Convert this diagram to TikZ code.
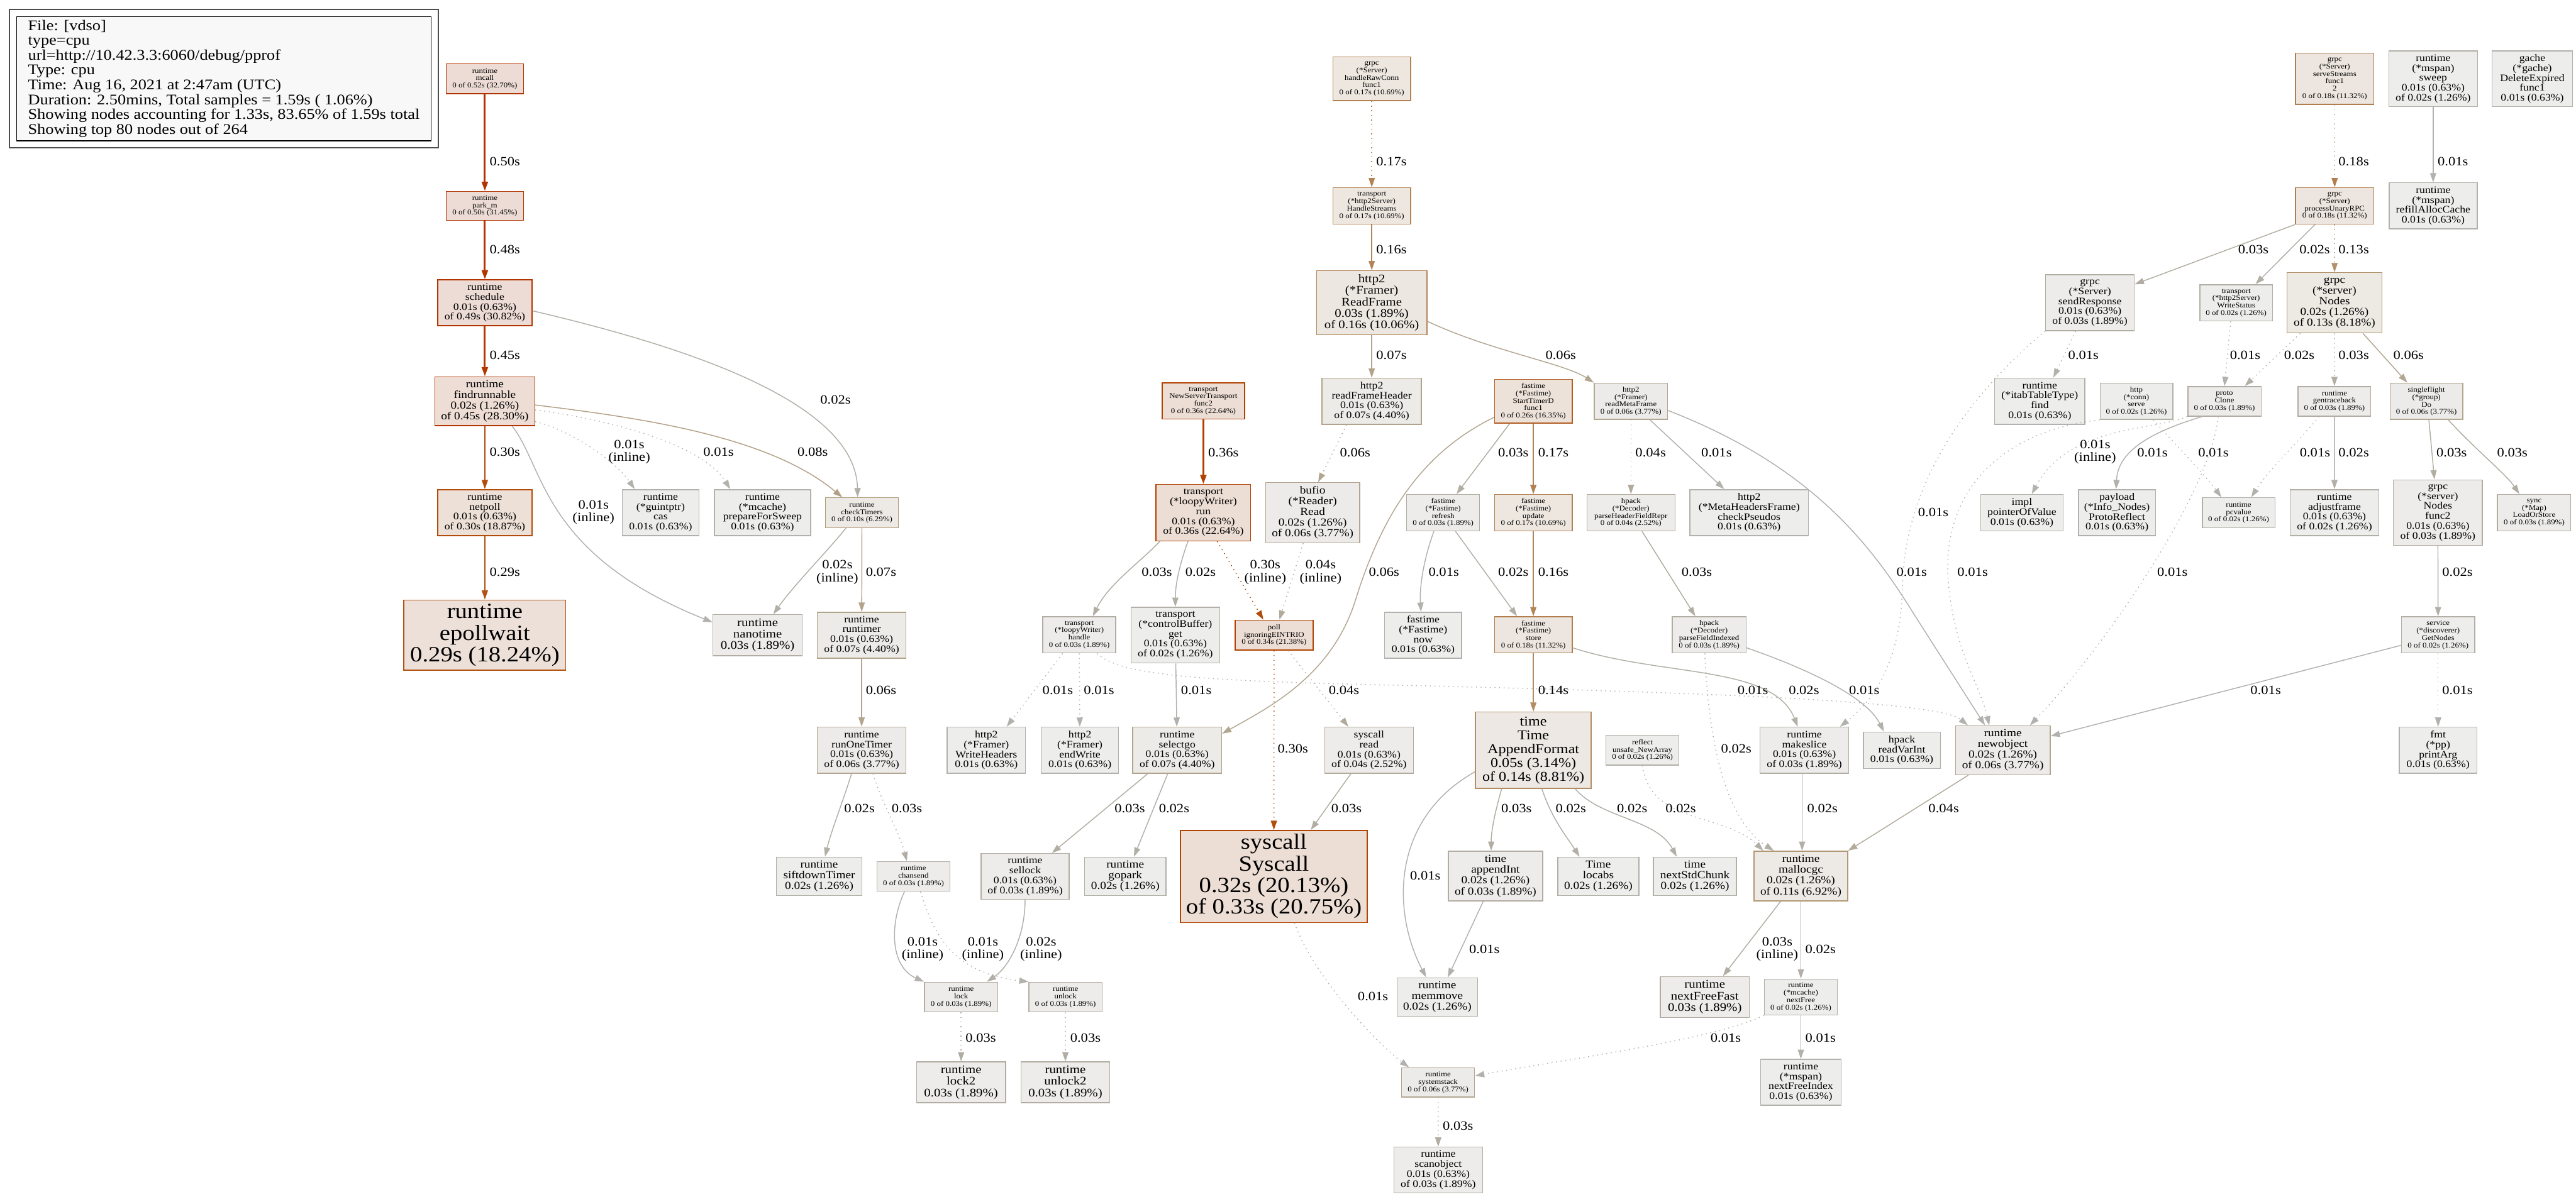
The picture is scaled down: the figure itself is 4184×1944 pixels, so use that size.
\documentclass[tikz,border=0pt]{standalone}
\usepackage{fontspec}
\setmainfont{Liberation Serif}[FakeStretch=1.12]
\usetikzlibrary{arrows.meta}
\definecolor{legfill}{HTML}{F8F8F8}
\definecolor{legframe}{HTML}{4D4D4D}
\newcount\pcc
\pcc=1
\loop
  \pgfmathsetmacro\pclscore{\the\pcc/159}
  \pgfmathsetmacro\pclshift{pow(\pclscore,0.3)}
  \pgfmathsetmacro\pclsatb{(\pclscore<0.2) ? (0.1*\pclscore/0.2) : 0.1}
  \pgfmathsetmacro\pclsatf{(\pclscore<0.2) ? (\pclscore/0.2) : 1.0}
  \pgfmathsetmacro\pclgb{0.93*(1-\pclsatb*\pclshift)}
  \pgfmathsetmacro\pclbb{0.93*(1-\pclsatb)}
  \pgfmathsetmacro\pclgf{0.7*(1-\pclsatf*\pclshift)}
  \pgfmathsetmacro\pclbf{0.7*(1-\pclsatf)}
  \edef\pcldo{\noexpand\definecolor{F\the\pcc}{rgb}{0.93,\pclgb,\pclbb}\noexpand\definecolor{D\the\pcc}{rgb}{0.7,\pclgf,\pclbf}}
  \pcldo
  \advance\pcc by 1
\ifnum\pcc<60 \repeat
\begin{document}
\begin{tikzpicture}[x=1pt,y=-1pt,
  nd/.style={rectangle, draw=D#1, fill=F#1, line width=1.5pt, inner sep=0pt, align=center},
  wh/.style 2 args={minimum width=#1pt, minimum height=#2pt},
  fa/.style={font=\fontsize{11.8}{12}\selectfont},
  fb/.style={font=\fontsize{16.2}{16.1}\selectfont},
  fc/.style={font=\fontsize{17.6}{17.4}\selectfont},
  fd/.style={font=\fontsize{19}{18.8}\selectfont},
  fe/.style={font=\fontsize{22}{22.4}\selectfont},
  ff/.style={font=\fontsize{35.3}{35}\selectfont},
  lbl/.style={font=\fontsize{20.6}{20.5}\selectfont, inner sep=0pt, align=center},
  ed/.style={draw=D#1, line width=1.5pt, -{Triangle[length=15pt,width=10pt]}},
  edd/.style={ed=#1, dash pattern=on 1.5pt off 6pt},
  ew/.style={ed=#1, line width=3pt}]
\fill[white] (0,0) rectangle (4184,1944);
\useasboundingbox (0,0) rectangle (4184,1944);

% legend
\node[draw=legframe, line width=2pt, minimum width=696.4pt, minimum height=223.8pt, inner sep=0pt] (legendframe) at (363.6,127.7) {};
\node[draw=black, fill=legfill, line width=1.5pt, minimum width=673.6pt, minimum height=201.9pt, inner sep=0pt, align=left, font=\fontsize{24}{24.1}\selectfont] (legend) at (363.6,127.85) {File: [vdso]\\type=cpu\\url=http://10.42.3.3:6060/debug/pprof\\Type: cpu\\Time: Aug 16, 2021 at 2:47am (UTC)\\Duration: 2.50mins, Total samples = 1.59s ( 1.06\%)\\Showing nodes accounting for 1.33s, 83.65\% of 1.59s total\\Showing top 80 nodes out of 264};

% nodes
\node[nd=52,fa,wh={126}{48.5}] (mcall) at (787.5,127.9) {runtime\\mcall\\0 of 0.52s (32.70\%)};
\node[nd=50,fa,wh={126}{47}] (parkm) at (787.5,334.5) {runtime\\park\_m\\0 of 0.50s (31.45\%)};
\node[nd=49,fb,wh={153}{74.6}] (schedule) at (787.5,492) {runtime\\schedule\\0.01s (0.63\%)\\of 0.49s (30.82\%)};
\node[nd=45,fc,wh={162}{79.5}] (findrunnable) at (787.5,652) {runtime\\findrunnable\\0.02s (1.26\%)\\of 0.45s (28.30\%)};
\node[nd=30,fb,wh={153}{75}] (netpoll) at (787.5,833) {runtime\\netpoll\\0.01s (0.63\%)\\of 0.30s (18.87\%)};
\node[nd=29,ff,wh={263}{114}] (epollwait) at (787.5,1032) {runtime\\epollwait\\0.29s (18.24\%)};
\node[nd=1,fb,wh={125}{75}] (cas) at (1073,833) {runtime\\(*guintptr)\\cas\\0.01s (0.63\%)};
\node[nd=1,fb,wh={156}{75}] (prep) at (1238.5,833) {runtime\\(*mcache)\\prepareForSweep\\0.01s (0.63\%)};
\node[nd=10,fa,wh={118.5}{48.6}] (checkTimers) at (1400,833) {runtime\\checkTimers\\0 of 0.10s (6.29\%)};
\node[nd=3,fd,wh={145}{66.5}] (nanotime) at (1230.5,1032) {runtime\\nanotime\\0.03s (1.89\%)};
\node[nd=7,fb,wh={144}{74.5}] (runtimer) at (1399.5,1032) {runtime\\runtimer\\0.01s (0.63\%)\\of 0.07s (4.40\%)};
\node[nd=6,fb,wh={144}{75}] (runOneTimer) at (1399.5,1219) {runtime\\runOneTimer\\0.01s (0.63\%)\\of 0.06s (3.77\%)};
\node[nd=2,fc,wh={139}{62.4}] (siftdown) at (1330.5,1424) {runtime\\siftdownTimer\\0.02s (1.26\%)};
\node[nd=3,fa,wh={118.6}{48.3}] (chansend) at (1483.7,1424) {runtime\\chansend\\0 of 0.03s (1.89\%)};
\node[nd=3,fb,wh={143}{74.4}] (sellock) at (1665,1424) {runtime\\sellock\\0.01s (0.63\%)\\of 0.03s (1.89\%)};
\node[nd=2,fc,wh={132}{62.4}] (gopark) at (1827.7,1424) {runtime\\gopark\\0.02s (1.26\%)};
\node[nd=3,fa,wh={119}{48.3}] (lock) at (1561,1620) {runtime\\lock\\0 of 0.03s (1.89\%)};
\node[nd=3,fa,wh={118.6}{48.3}] (unlock) at (1730.6,1620) {runtime\\unlock\\0 of 0.03s (1.89\%)};
\node[nd=3,fd,wh={144.5}{66.4}] (lock2) at (1561,1758.5) {runtime\\lock2\\0.03s (1.89\%)};
\node[nd=3,fd,wh={144.5}{66.4}] (unlock2) at (1730.4,1758.5) {runtime\\unlock2\\0.03s (1.89\%)};
\node[nd=36,fa,wh={134}{59}] (nst) at (1954.5,651.5) {transport\\NewServerTransport\\func2\\0 of 0.36s (22.64\%)};
\node[nd=36,fb,wh={153.6}{91.5}] (run) at (1954.5,833) {transport\\(*loopyWriter)\\run\\0.01s (0.63\%)\\of 0.36s (22.64\%)};
\node[nd=3,fa,wh={118.5}{59}] (handle) at (1753,1031.5) {transport\\(*loopyWriter)\\handle\\0 of 0.03s (1.89\%)};
\node[nd=2,fb,wh={144}{90.6}] (cbget) at (1909,1032) {transport\\(*controlBuffer)\\get\\0.01s (0.63\%)\\of 0.02s (1.26\%)};
\node[nd=34,fa,wh={126.8}{48.6}] (poll) at (2069.4,1032) {poll\\ignoringEINTRIO\\0 of 0.34s (21.38\%)};
\node[nd=1,fb,wh={127}{75}] (wh) at (1602,1219) {http2\\(*Framer)\\WriteHeaders\\0.01s (0.63\%)};
\node[nd=1,fb,wh={125.5}{75}] (endw) at (1754,1219) {http2\\(*Framer)\\endWrite\\0.01s (0.63\%)};
\node[nd=7,fb,wh={144.5}{75}] (selectgo) at (1912,1219) {runtime\\selectgo\\0.01s (0.63\%)\\of 0.07s (4.40\%)};
\node[nd=33,ff,wh={303}{149.6}] (syscallS) at (2069,1424) {syscall\\Syscall\\0.32s (20.13\%)\\of 0.33s (20.75\%)};
\node[nd=17,fa,wh={126}{71}] (hrc) at (2228,128) {grpc\\(*Server)\\handleRawConn\\func1\\0 of 0.17s (10.69\%)};
\node[nd=17,fa,wh={126}{59}] (hs) at (2228,334.5) {transport\\(*http2Server)\\HandleStreams\\0 of 0.17s (10.69\%)};
\node[nd=16,fd,wh={179}{104.4}] (rf) at (2228,492) {http2\\(*Framer)\\ReadFrame\\0.03s (1.89\%)\\of 0.16s (10.06\%)};
\node[nd=7,fb,wh={161.4}{75}] (rfh) at (2228,652) {http2\\readFrameHeader\\0.01s (0.63\%)\\of 0.07s (4.40\%)};
\node[nd=26,fa,wh={126}{71}] (std) at (2490.5,652) {fastime\\(*Fastime)\\StartTimerD\\func1\\0 of 0.26s (16.35\%)};
\node[nd=6,fa,wh={119}{59}] (rmf) at (2649,652) {http2\\(*Framer)\\readMetaFrame\\0 of 0.06s (3.77\%)};
\node[nd=6,fc,wh={153}{97.8}] (bufio) at (2132,833) {bufio\\(*Reader)\\Read\\0.02s (1.26\%)\\of 0.06s (3.77\%)};
\node[nd=3,fa,wh={118.5}{59}] (refresh) at (2344,833) {fastime\\(*Fastime)\\refresh\\0 of 0.03s (1.89\%)};
\node[nd=17,fa,wh={126}{59}] (update) at (2490.5,833) {fastime\\(*Fastime)\\update\\0 of 0.17s (10.69\%)};
\node[nd=4,fa,wh={143}{59}] (phfr) at (2649,833) {hpack\\(*Decoder)\\parseHeaderFieldRepr\\0 of 0.04s (2.52\%)};
\node[nd=1,fb,wh={193}{75}] (cps) at (2841,833) {http2\\(*MetaHeadersFrame)\\checkPseudos\\0.01s (0.63\%)};
\node[nd=1,fb,wh={125}{74.5}] (now) at (2311.5,1032) {fastime\\(*Fastime)\\now\\0.01s (0.63\%)};
\node[nd=18,fa,wh={126}{59}] (store) at (2490.5,1031.5) {fastime\\(*Fastime)\\store\\0 of 0.18s (11.32\%)};
\node[nd=3,fa,wh={120}{59}] (pfi) at (2776,1031.5) {hpack\\(*Decoder)\\parseFieldIndexed\\0 of 0.03s (1.89\%)};
\node[nd=4,fb,wh={144}{75}] (sread) at (2223.6,1219) {syscall\\read\\0.01s (0.63\%)\\of 0.04s (2.52\%)};
\node[nd=14,fe,wh={188}{124}] (af) at (2490.5,1219) {time\\Time\\AppendFormat\\0.05s (3.14\%)\\of 0.14s (8.81\%)};
\node[nd=2,fa,wh={118.6}{48.3}] (una) at (2667.7,1219) {reflect\\unsafe\_NewArray\\0 of 0.02s (1.26\%)};
\node[nd=3,fb,wh={144}{75}] (makeslice) at (2930.7,1219) {runtime\\makeslice\\0.01s (0.63\%)\\of 0.03s (1.89\%)};
\node[nd=1,fb,wh={125}{59}] (rvi) at (3089,1219) {hpack\\readVarInt\\0.01s (0.63\%)};
\node[nd=3,fc,wh={153}{81}] (appendInt) at (2429,1423.5) {time\\appendInt\\0.02s (1.26\%)\\of 0.03s (1.89\%)};
\node[nd=2,fc,wh={132}{62.4}] (locabs) at (2596,1424) {Time\\locabs\\0.02s (1.26\%)};
\node[nd=2,fc,wh={134.7}{62.4}] (nsc) at (2753,1424) {time\\nextStdChunk\\0.02s (1.26\%)};
\node[nd=11,fc,wh={152}{81}] (mallocgc) at (2925,1423.5) {runtime\\mallocgc\\0.02s (1.26\%)\\of 0.11s (6.92\%)};
\node[nd=2,fc,wh={131}{62.4}] (memmove) at (2334.5,1620) {runtime\\memmove\\0.02s (1.26\%)};
\node[nd=3,fd,wh={144.5}{66.8}] (nff) at (2769,1620) {runtime\\nextFreeFast\\0.03s (1.89\%)};
\node[nd=2,fa,wh={118.6}{58.4}] (nextFree) at (2925,1620) {runtime\\(*mcache)\\nextFree\\0 of 0.02s (1.26\%)};
\node[nd=6,fa,wh={118.6}{47.4}] (sysstack) at (2335.8,1758.7) {runtime\\systemstack\\0 of 0.06s (3.77\%)};
\node[nd=1,fb,wh={130.5}{74.4}] (nfi) at (2925,1758.5) {runtime\\(*mspan)\\nextFreeIndex\\0.01s (0.63\%)};
\node[nd=3,fb,wh={144}{74.4}] (scanobject) at (2336,1901) {runtime\\scanobject\\0.01s (0.63\%)\\of 0.03s (1.89\%)};
\node[nd=18,fa,wh={127}{83}] (ss) at (3792,128) {grpc\\(*Server)\\serveStreams\\func1\\2\\0 of 0.18s (11.32\%)};
\node[nd=2,fb,wh={144.4}{90.8}] (sweep) at (3952,128) {runtime\\(*mspan)\\sweep\\0.01s (0.63\%)\\of 0.02s (1.26\%)};
\node[nd=1,fb,wh={130.6}{90.8}] (gache) at (4113,128) {gache\\(*gache)\\DeleteExpired\\func1\\0.01s (0.63\%)};
\node[nd=18,fa,wh={127}{59}] (pur) at (3792,334.5) {grpc\\(*Server)\\processUnaryRPC\\0 of 0.18s (11.32\%)};
\node[nd=1,fb,wh={143}{75}] (rac) at (3952,334.5) {runtime\\(*mspan)\\refillAllocCache\\0.01s (0.63\%)};
\node[nd=3,fb,wh={144}{90.8}] (sresp) at (3394.5,492) {grpc\\(*Server)\\sendResponse\\0.01s (0.63\%)\\of 0.03s (1.89\%)};
\node[nd=2,fa,wh={118}{59}] (wstat) at (3632,492) {transport\\(*http2Server)\\WriteStatus\\0 of 0.02s (1.26\%)};
\node[nd=13,fc,wh={154}{98}] (nodes) at (3791.7,492) {grpc\\(*server)\\Nodes\\0.02s (1.26\%)\\of 0.13s (8.18\%)};
\node[nd=1,fb,wh={146.6}{75}] (itab) at (3313,652) {runtime\\(*itabTableType)\\find\\0.01s (0.63\%)};
\node[nd=2,fa,wh={118}{59}] (conn) at (3470,652) {http\\(*conn)\\serve\\0 of 0.02s (1.26\%)};
\node[nd=3,fa,wh={119}{48}] (clone) at (3613,652) {proto\\Clone\\0 of 0.03s (1.89\%)};
\node[nd=3,fa,wh={118}{48}] (gtb) at (3791.6,652) {runtime\\gentraceback\\0 of 0.03s (1.89\%)};
\node[nd=6,fa,wh={118}{59}] (sfd) at (3941,652) {singleflight\\(*group)\\Do\\0 of 0.06s (3.77\%)};
\node[nd=1,fb,wh={134}{59}] (pov) at (3284,833) {impl\\pointerOfValue\\0.01s (0.63\%)};
\node[nd=1,fb,wh={125}{75}] (payload) at (3438.4,833) {payload\\(*Info\_Nodes)\\ProtoReflect\\0.01s (0.63\%)};
\node[nd=2,fa,wh={118}{48.6}] (pcvalue) at (3636,833) {runtime\\pcvalue\\0 of 0.02s (1.26\%)};
\node[nd=2,fb,wh={144.5}{75}] (adjf) at (3791.7,833) {runtime\\adjustframe\\0.01s (0.63\%)\\of 0.02s (1.26\%)};
\node[nd=3,fb,wh={144.5}{106.6}] (nf2) at (3959.6,833) {grpc\\(*server)\\Nodes\\func2\\0.01s (0.63\%)\\of 0.03s (1.89\%)};
\node[nd=3,fa,wh={119}{59}] (loadstore) at (4116,833) {sync\\(*Map)\\LoadOrStore\\0 of 0.03s (1.89\%)};
\node[nd=2,fa,wh={119}{59}] (getnodes) at (3960,1031.5) {service\\(*discoverer)\\GetNodes\\0 of 0.02s (1.26\%)};
\node[nd=6,fc,wh={154}{79.5}] (newobject) at (3253,1219) {runtime\\newobject\\0.02s (1.26\%)\\of 0.06s (3.77\%)};
\node[nd=1,fb,wh={126}{75}] (printarg) at (3960,1219) {fmt\\(*pp)\\printArg\\0.01s (0.63\%)};

% edges: runtime scheduler
\draw[ew=50] (mcall) -- (parkm);
\draw[ew=48] (parkm) -- (schedule);
\draw[ew=45] (schedule) -- (findrunnable);
\draw[ed=2] ([yshift=-13pt]schedule.east) .. controls (1100,560) and (1390,650) .. ([xshift=-7pt]checkTimers.north);
\draw[ed=30] (findrunnable) -- (netpoll);
\draw[ed=29] (netpoll) -- (epollwait);
\draw[ed=1] ([xshift=44.5pt]findrunnable.south) .. controls (885,760) and (880,900) .. ([yshift=21pt]nanotime.west);
\draw[edd=1] ([yshift=-33pt]findrunnable.east) .. controls (930,700) and (1000,750) .. ([xshift=-42pt]cas.north);
\draw[edd=1] ([yshift=-14pt]findrunnable.east) .. controls (980,680) and (1140,720) .. ([xshift=-52.5pt]prep.north);
\draw[ed=8] ([yshift=-6pt]findrunnable.east) .. controls (1050,680) and (1250,710) .. ([xshift=-32pt]checkTimers.north);
\draw[ed=2] ([xshift=-26pt]checkTimers.south) .. controls (1340,900) and (1290,950) .. ([xshift=25.5pt]nanotime.north);
\draw[ed=7] (checkTimers) -- (runtimer);
\draw[ed=6] (runtimer) -- (runOneTimer);
\draw[ed=2] ([xshift=-16.5pt]runOneTimer.south) .. controls (1370,1300) and (1350,1350) .. ([xshift=9.5pt]siftdown.north);
\draw[edd=3] ([xshift=18.5pt]runOneTimer.south) .. controls (1430,1300) and (1460,1350) .. ([xshift=-10.7pt]chansend.north);
\draw[ed=1] ([xshift=-14.7pt]chansend.south) .. controls (1445,1500) and (1445,1570) .. (lock.north west);
\draw[edd=1] ([xshift=11.3pt]chansend.south) .. controls (1515,1510) and (1540,1580) .. (unlock.north west);
\draw[ed=2] (sellock.south) .. controls (1665,1520) and (1640,1570) .. ([xshift=42pt]lock.north);
\draw[edd=3] (lock) -- (lock2);
\draw[edd=3] (unlock) -- (unlock2);

% edges: transport
\draw[ew=36] (nst) -- (run);
\draw[ed=3] ([xshift=-70.5pt]run.south) .. controls (1850,915) and (1800,950) .. ([xshift=22pt]handle.north);
\draw[ed=2] ([xshift=-25pt]run.south) .. controls (1915,920) and (1909,950) .. (cbget.north);
\draw[edd=30] ([xshift=22.5pt]run.south) -- ([xshift=-17.4pt]poll.north);
\draw[edd=4] ([xshift=-15.4pt]bufio.south) -- ([xshift=8.6pt]poll.north);
\draw[edd=1] ([xshift=-27pt]handle.south) -- ([xshift=33pt]wh.north);
\draw[edd=1] (handle) -- (endw);
\draw[edd=1] ([xshift=29pt]handle.south) .. controls (1820,1098) and (1950,1107) .. (2300,1114) .. controls (2800,1126) and (3150,1140) .. ([xshift=21pt]newobject.north west);
\draw[ed=1] (cbget) -- (selectgo);
\draw[ed=3] ([xshift=-48pt]selectgo.south) -- ([xshift=43.5pt]sellock.north);
\draw[ed=2] ([xshift=-15.5pt]selectgo.south) -- ([xshift=14pt]gopark.north);
\draw[edd=30] (poll) -- (syscallS);
\draw[edd=4] ([xshift=22.6pt]poll.south) -- ([xshift=-33.6pt]sread.north);
\draw[ed=3] ([xshift=-29.6pt]sread.south) -- ([xshift=60pt]syscallS.north);
\draw[edd=1] ([xshift=33.6pt]syscallS.south) .. controls (2130,1580) and (2230,1690) .. ([xshift=-47.3pt]sysstack.north);

% edges: http2 / fastime
\draw[edd=17] (hrc) -- (hs);
\draw[ed=16] (hs) -- (rf);
\draw[ed=7] (rf) -- (rfh);
\draw[ed=6] ([yshift=-30pt]rf.east) .. controls (2420,570) and (2540,590) .. (rmf.north west);
\draw[edd=6] ([xshift=-41pt]rfh.south) -- ([xshift=9pt]bufio.north);
\draw[ed=6] ([yshift=-26pt]std.west) .. controls (2300,740) and (2240,850) .. (2200,980) .. controls (2160,1100) and (2060,1150) .. ([yshift=27pt]selectgo.east);
\draw[ed=3] ([xshift=-38.5pt]std.south) -- ([xshift=21.7pt]refresh.north);
\draw[ed=17] (std) -- (update);
\draw[edd=4] (rmf) -- (phfr);
\draw[ed=1] ([xshift=31pt]rmf.south) -- ([xshift=-40.4pt]cps.north);
\draw[ed=1] ([yshift=-15pt]rmf.east) .. controls (2950,760) and (3045,895) .. (3110,1000) -- ([xshift=-29pt]newobject.north);
\draw[ed=1] ([xshift=-15pt]refresh.south) .. controls (2315,900) and (2305,950) .. ([xshift=-3.5pt]now.north);
\draw[ed=2] ([xshift=20pt]refresh.south) -- ([xshift=-26.5pt]store.north);
\draw[ed=16] (update) -- (store);
\draw[ed=3] ([xshift=18pt]phfr.south) -- ([xshift=-22.4pt]pfi.north);
\draw[ed=14] (store) -- (af);
\draw[ed=2] ([yshift=-21pt]store.east) .. controls (2700,1100) and (2880,1080) .. ([xshift=-10.7pt]makeslice.north);
\draw[ed=1] ([yshift=-21pt]pfi.east) .. controls (2930,1085) and (3030,1130) .. ([xshift=-29pt]rvi.north);
\draw[edd=2] ([xshift=-7pt]pfi.south) .. controls (2775,1200) and (2800,1330) .. ([xshift=-44pt]mallocgc.north);
\draw[edd=2] (una.south) .. controls (2680,1340) and (2800,1320) .. ([xshift=-61pt]mallocgc.north);
\draw[ed=1] ([yshift=-35pt]af.west) .. controls (2260,1330) and (2260,1480) .. ([xshift=-18pt]memmove.north);
\draw[ed=3] ([xshift=-51.5pt]af.south) .. controls (2428,1320) and (2422,1350) .. ([xshift=-7pt]appendInt.north);
\draw[ed=2] ([xshift=14pt]af.south) .. controls (2520,1330) and (2545,1360) .. ([xshift=-30.4pt]locabs.north);
\draw[ed=2] ([xshift=68pt]af.south) .. controls (2600,1330) and (2690,1330) .. ([xshift=-29.6pt]nsc.north);
\draw[ed=2] ([xshift=-3.7pt]makeslice.south) -- ([xshift=2pt]mallocgc.north);
\draw[ed=4] ([xshift=-56pt]newobject.south) -- (mallocgc.north east);
\draw[ed=1] ([xshift=-20pt]appendInt.south) -- ([xshift=17pt]memmove.north);
\draw[ed=3] ([xshift=-33pt]mallocgc.south) -- ([xshift=29.5pt]nff.north);
\draw[ed=2] (mallocgc) -- (nextFree);
\draw[edd=1] (nextFree.south west) .. controls (2780,1690) and (2550,1720) .. ([yshift=10.7pt]sysstack.east);
\draw[ed=1] (nextFree) -- (nfi);
\draw[edd=3] (sysstack) -- (scanobject);

% edges: grpc
\draw[edd=18] (ss) -- (pur);
\draw[ed=1] (sweep) -- (rac);
\draw[ed=3] (pur.south west) -- ([yshift=-16pt]sresp.north east);
\draw[ed=2] ([xshift=-32pt]pur.south) -- ([xshift=31.4pt]wstat.north);
\draw[edd=13] (pur) -- (nodes);
\draw[edd=1] ([xshift=-23.5pt]sresp.south) -- ([xshift=22pt]itab.north);
\draw[edd=1] (sresp.south west) .. controls (3200,640) and (3095,780) .. (3090,950) .. controls (3088,1080) and (3040,1140) .. ([xshift=-15pt]makeslice.north east);
\draw[edd=1] ([xshift=-9pt]wstat.south) -- (clone.north);
\draw[edd=2] ([xshift=-55.7pt]nodes.south) -- ([xshift=33pt]clone.north);
\draw[edd=3] (nodes) -- (gtb);
\draw[ed=6] ([xshift=46.3pt]nodes.south) -- ([xshift=-31pt]sfd.north);
\draw[edd=1] (clone.south west) .. controls (3500,700) and (3360,690) .. ([xshift=16pt]pov.north);
\draw[ed=1] ([xshift=-36pt]clone.south) .. controls (3500,700) and (3440,730) .. ([xshift=-1.4pt]payload.north);
\draw[edd=1] ([xshift=-10pt]clone.south) .. controls (3590,800) and (3420,1050) .. ([xshift=44pt]newobject.north);
\draw[edd=1] (conn.south west) .. controls (3250,700) and (3150,800) .. (3165,950) .. controls (3175,1060) and (3215,1110) .. ([xshift=-22pt]newobject.north);
\draw[edd=1] ([xshift=27.5pt]conn.south) .. controls (3540,730) and (3580,770) .. ([xshift=-28pt]pcvalue.north);
\draw[edd=1] ([xshift=-24.6pt]gtb.south) .. controls (3730,720) and (3680,770) .. ([xshift=20.5pt]pcvalue.north);
\draw[ed=2] (gtb) -- (adjf);
\draw[ed=3] ([xshift=4pt]sfd.south) -- ([xshift=-5.6pt]nf2.north);
\draw[ed=3] ([xshift=35.6pt]sfd.south) .. controls (4020,730) and (4070,770) .. ([xshift=-24pt]loadstore.north);
\draw[ed=2] (nf2) -- (getnodes);
\draw[ed=1] ([yshift=-17pt]getnodes.west) -- ([yshift=23pt]newobject.east);
\draw[edd=1] (getnodes) -- (printarg);

% edge labels
\foreach \lx/\ly/\lt [count=\li] in {
 820/262/0.50s, 820/405/0.48s, 820/577/0.45s, 1357/650/0.02s, 820/734/0.30s, 820/929.5/0.29s,
 964/832/{0.01s\\(inline)}, 1022/734/{0.01s\\(inline)}, 1167/734/0.01s, 1320/734/0.08s,
 1360/930/{0.02s\\(inline)}, 1431/929.5/0.07s, 1431/1121/0.06s, 1396/1314/0.02s, 1473/1314/0.03s,
 1498.5/1542/{0.01s\\(inline)}, 1596.5/1542/{0.01s\\(inline)}, 1691/1542/{0.02s\\(inline)},
 1593/1686/0.03s, 1763/1686/0.03s, 1987/735/0.36s, 1879/929.5/0.03s, 1950/929.5/0.02s,
 2055/930/{0.30s\\(inline)}, 2145/930/{0.04s\\(inline)}, 1718/1121/0.01s, 1785/1121/0.01s,
 2847/1121/0.01s, 1943/1121/0.01s, 1835/1314/0.03s, 1907/1314/0.02s, 2100/1217/0.30s,
 2183/1121/0.04s, 2187/1314/0.03s, 2230/1619/0.01s, 2260/262/0.17s, 2260/405/0.16s,
 2260/577/0.07s, 2535/577/0.06s, 2201/735/0.06s, 2248/929.5/0.06s, 2458/735/0.03s,
 2523/735/0.17s, 2681/735/0.04s, 2788/735/0.01s, 3105/929.5/0.01s, 2345/929.5/0.01s,
 2458/929.5/0.02s, 2523/929.5/0.16s, 2756/929.5/0.03s, 2523/1121/0.14s, 2930/1121/0.02s,
 3028/1121/0.01s, 2820/1217/0.02s, 2730/1314/0.02s, 2315/1423/0.01s, 2463/1314/0.03s,
 2551.5/1314/0.02s, 2651/1314/0.02s, 2960/1314/0.02s, 3157/1314/0.04s, 2411/1542/0.01s,
 2886.6/1542/{0.03s\\(inline)}, 2957/1542/0.02s, 2803/1686/0.01s, 2957/1686/0.01s,
 2368/1829/0.03s, 3823/262/0.18s, 3984/262/0.01s, 3660/405/0.03s, 3759.5/405/0.02s,
 3823/405/0.13s, 3384/577/0.01s, 3140/832/0.01s, 3646.6/577/0.01s, 3734.6/577/0.02s,
 3823/577/0.03s, 3912/577/0.06s, 3403/734.5/{0.01s\\(inline)}, 3496/735/0.01s,
 3528.5/929.5/0.01s, 3204/929.5/0.01s, 3595/735/0.01s, 3760/735/0.01s, 3823/735/0.02s,
 3982/735/0.03s, 4080.6/735/0.03s, 3991.5/929.5/0.02s, 3680/1121/0.01s, 3991.5/1121/0.01s}
 {\node[lbl] (L\li) at (\lx,\ly) {\lt};}
\end{tikzpicture}
\end{document}
